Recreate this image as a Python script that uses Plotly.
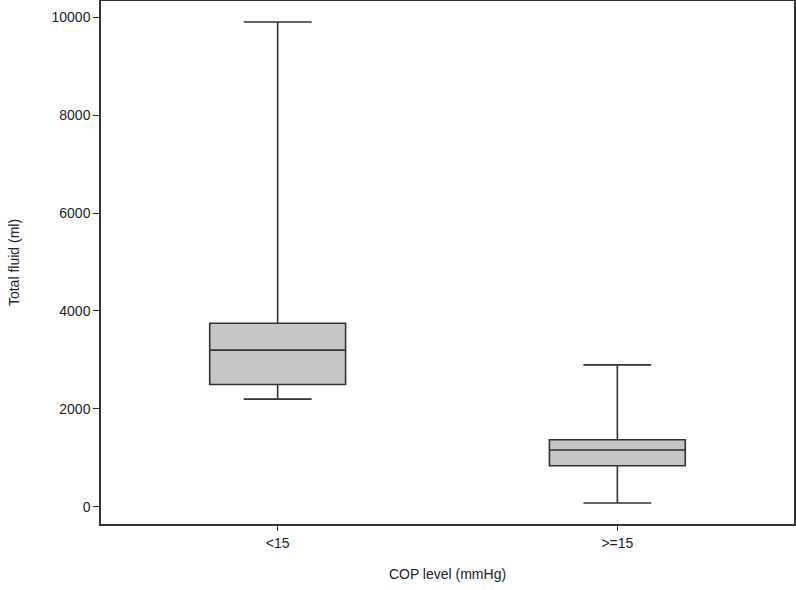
import plotly.graph_objects as go

categories = ["<15", ">=15"]
q1 = [2500, 840]
median = [3200, 1160]
q3 = [3750, 1370]
lower_fence = [2200, 80]
upper_fence = [9900, 2900]
y_ticks = [0, 2000, 4000, 6000, 8000, 10000]

fig = go.Figure()
fig.add_trace(go.Box(
    x=categories,
    q1=q1, median=median, q3=q3,
    lowerfence=lower_fence, upperfence=upper_fence,
    fillcolor="#c6c6c6",
    line=dict(color="#333333", width=1.6),
    whiskerwidth=0.5,
    width=0.4,
    boxpoints=False,
    showlegend=False,
    hoverinfo="skip",
))

font = dict(family="Liberation Sans, Arial, sans-serif", size=14, color="#222222")
fig.update_layout(
    width=796, height=590,
    margin=dict(l=101, r=2, t=1, b=66),
    paper_bgcolor="white", plot_bgcolor="white",
    font=font,
    xaxis=dict(
        type="category", range=[-0.52, 1.52], automargin=False,
        showline=True, mirror=True, linecolor="#333333", linewidth=1.5,
        ticks="outside", ticklen=5, tickcolor="#333333",
        showgrid=False, zeroline=False,
        title=dict(text="COP level (mmHg)", standoff=20, font=dict(size=14)),
    ),
    yaxis=dict(
        range=[-350, 10330], automargin=False,
        tickvals=y_ticks, ticktext=[str(v) for v in y_ticks],
        showline=True, mirror=True, linecolor="#333333", linewidth=1.5,
        ticks="outside", ticklen=6, tickcolor="#333333",
        showgrid=False, zeroline=False,
        title=dict(text="Total fluid (ml)", standoff=29, font=dict(size=14)),
    ),
)

fig.write_html(
    "out.html",
    config={"displayModeBar": False},
    post_script="document.body.style.margin='0';document.body.style.padding='0';",
)
